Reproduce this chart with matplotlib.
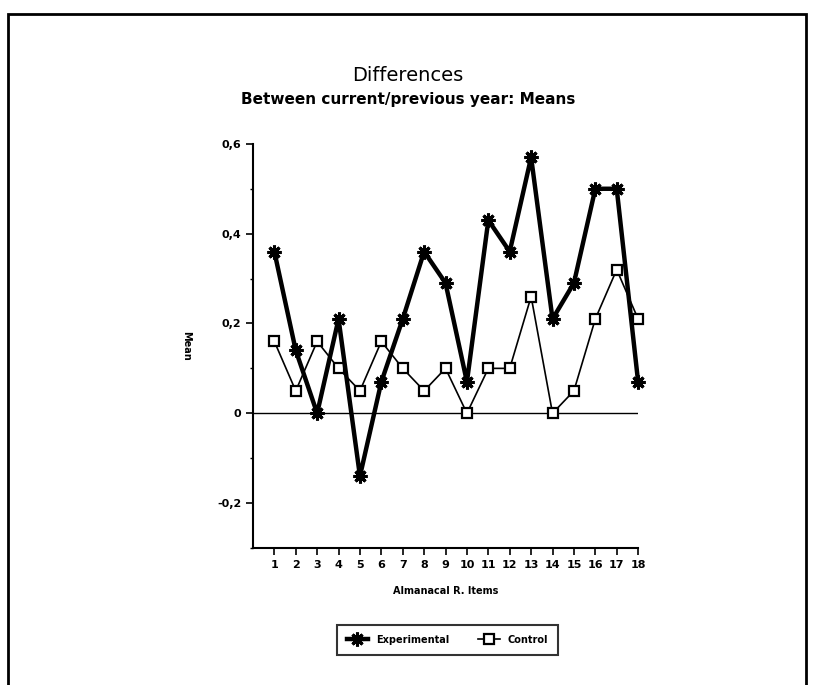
import matplotlib
matplotlib.use("Agg")
import matplotlib.pyplot as plt
from matplotlib.patches import Rectangle

items = list(range(1, 19))
experimental = [0.36, 0.14, 0.00, 0.21, -0.14, 0.07, 0.21, 0.36, 0.29,
                0.07, 0.43, 0.36, 0.57, 0.21, 0.29, 0.50, 0.50, 0.07]
control = [0.16, 0.05, 0.16, 0.10, 0.05, 0.16, 0.10, 0.05, 0.10,
           0.00, 0.10, 0.10, 0.26, 0.00, 0.05, 0.21, 0.32, 0.21]
ytick_vals = [0.6, 0.4, 0.2, 0, -0.2]
ytick_labels = ['0,6', '0,4', '0,2', '0', '-0,2']

plt.rcParams['font.family'] = ['DejaVu Sans']

fig = plt.figure(figsize=(8.16, 6.85), dpi=100)
ax = fig.add_axes([0.310, 0.200, 0.472, 0.590])

ax.axhline(0, xmin=0, xmax=1, color='black', lw=1.0, zorder=1)
ax.plot(items, experimental, color='black', lw=3.2, marker=(8, 2, 0),
        ms=10, mew=2.2, label='Experimental', zorder=3, clip_on=False)
ax.plot(items, control, color='black', lw=1.2, marker='s', ms=7,
        mfc='white', mec='black', mew=1.6, label='Control', zorder=2,
        clip_on=False)

ax.set_xlim(0, 18)
ax.set_ylim(-0.3, 0.6)
ax.set_xticks(items)
ax.set_xticklabels([str(i) for i in items], fontsize=8, fontweight='bold')
ax.set_yticks(ytick_vals)
ax.set_yticklabels(ytick_labels, fontsize=8, fontweight='bold')
ax.set_yticks([0.5, 0.3, 0.1, -0.1, -0.3], minor=True)
ax.tick_params(axis='both', which='major', direction='out', length=5, width=1.2)
ax.tick_params(axis='y', which='minor', direction='out', length=2, width=1)
for s in ['top', 'right']:
    ax.spines[s].set_visible(False)
for s in ['left', 'bottom']:
    ax.spines[s].set_linewidth(1.5)

ax.set_ylabel('Mean', fontsize=7, fontweight='bold', rotation=-90,
              va='center', labelpad=22)
ax.set_xlabel('Almanacal R. Items', fontsize=7, fontweight='bold', labelpad=12)

fig.text(0.5, 0.890, 'Differences', ha='center', va='center', fontsize=14)
fig.text(0.5, 0.855, 'Between current/previous year: Means', ha='center',
         va='center', fontsize=11, fontweight='bold')

leg = fig.legend(loc='center', bbox_to_anchor=(0.548, 0.066), ncol=2,
                 prop={'size': 7, 'weight': 'bold'}, frameon=True,
                 fancybox=False, edgecolor='black', handlelength=2.2,
                 columnspacing=3.0, borderpad=1.0)
leg.get_frame().set_linewidth(1.5)

fig.patches.append(Rectangle((0.010, -0.05), 0.978, 1.03, transform=fig.transFigure,
                             fill=False, edgecolor='black', lw=2.0))

fig.savefig('out.png', dpi=100)
